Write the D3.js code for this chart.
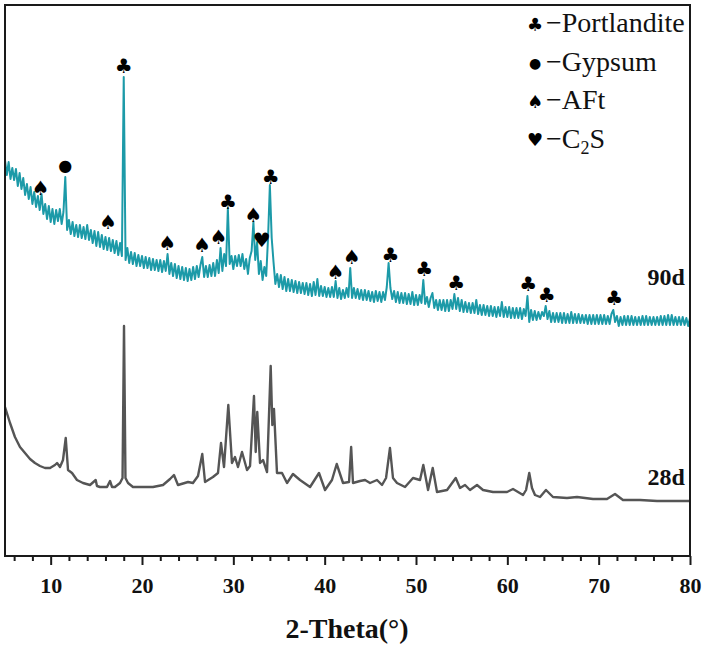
<!DOCTYPE html>
<html>
<head>
<meta charset="utf-8">
<script src="https://cdn.jsdelivr.net/npm/d3@7"></script>
<style>
  body { margin: 0; background: #fff; }
</style>
</head>
<body>
<div id="chart"></div>
<script>
// chart size and margins
const width = 706;
const height = 648;
const marginTop = 5;
const marginRight = 16;
const marginBottom = 92;
const marginLeft = 5;

// 28d pattern: [2-theta, intensity (a.u.)]
const pattern28d = [
  [5.0,149],[5.55,133],[6.09,119],[6.64,109],[7.19,103],[7.74,97],[8.28,93],[8.83,90],[9.38,88],[9.93,88],
  [10.47,91],[10.7,93],[11.02,89],[11.35,96],[11.65,118],[11.9,86],[12.34,83],[12.88,76],[13.54,73],[14.31,71],
  [14.93,76],[15.07,70],[15.4,69],[16.17,69],[16.5,75],[16.72,69],[17.04,69],[17.59,73],[17.87,78],[18.03,230],
  [18.19,78],[18.47,73],[19.01,69],[20.11,69],[21.2,69],[22.3,71],[23.07,77],[23.5,81],[23.94,71],[25.04,74],
  [25.58,73],[26.13,80],[26.6,102],[26.9,74],[27.77,79],[28.32,83],[28.65,113],[28.98,89],[29.45,151],[29.85,93],
  [30.18,99],[30.51,89],[30.95,104],[31.5,86],[31.83,90],[32.26,160],[32.45,104],[32.62,144],[32.92,93],[33.25,96],
  [33.69,84],[34.09,190],[34.27,131],[34.45,147],[34.78,83],[35.33,83],[35.88,73],[36.53,82],[37.3,76],[38.4,69],
  [39.38,83],[40.04,66],[40.8,76],[41.32,92],[42.01,73],[42.67,74],[42.9,109],[43.1,73],[43.87,75],[44.42,76],
  [44.97,73],[45.73,76],[46.28,71],[46.72,78],[47.15,108],[47.48,78],[47.92,73],[48.8,69],[49.67,78],[50.44,76],
  [50.8,91],[51.32,66],[51.83,88],[52.3,64],[53.4,66],[54.35,78],[54.82,68],[55.37,71],[55.91,66],[56.68,71],
  [57.34,66],[58.43,64],[59.97,64],[60.62,67],[61.72,61],[62.05,66],[62.4,83],[62.7,68],[63.03,61],[63.58,59],
  [64.23,66],[65.0,59],[66.53,58],[67.63,59],[69.38,57],[70.91,57],[71.79,62],[72.66,56],[74.53,56],[76.39,55],
  [78.14,55],[79.8,55],[80.0,55]
];

// 90d pattern: scan from 5 deg in 0.2 deg steps, intensity (a.u.)
const scanStart90d = 5;
const scanStep90d = 0.2;
const counts90d = [
  396,381,394,377,388,376,387,370,383,367,   // 5.0 - 6.8
  378,361,372,357,369,352,364,349,360,346,   // 7.0 - 8.8
  362,342,352,337,350,334,347,332,346,335,   // 9.0 - 10.8
  347,332,344,379,326,336,322,334,320,331,   // 11.0 - 12.8
  319,331,318,329,317,331,316,326,313,325,   // 13.0 - 14.8
  310,324,309,321,307,319,306,318,305,316,   // 15.0 - 16.8
  303,315,301,313,300,479,296,308,293,304,   // 17.0 - 18.8
  292,303,290,301,290,300,288,299,288,298,   // 19.0 - 20.8
  286,297,286,296,285,296,284,295,285,302,   // 21.0 - 22.8
  282,293,280,292,278,290,277,289,276,288,   // 23.0 - 24.8
  275,287,276,289,277,290,279,291,299,279,   // 25.0 - 26.8
  290,279,291,280,293,280,296,283,308,285,   // 27.0 - 28.8
  302,290,348,292,300,287,300,290,301,290,   // 29.0 - 30.8
  302,287,297,282,298,305,334,296,314,282,   // 31.0 - 32.8
  295,276,289,280,318,371,318,294,272,282,   // 33.0 - 34.8
  269,281,267,279,265,277,265,276,264,275,   // 35.0 - 36.8
  263,274,263,273,262,273,261,272,260,274,   // 37.0 - 38.8
  261,277,260,270,260,269,259,268,259,269,   // 39.0 - 40.8
  259,275,258,268,257,266,258,268,259,288,   // 41.0 - 42.8
  258,268,258,267,257,266,256,266,256,265,   // 43.0 - 44.8
  255,264,254,265,255,264,254,264,256,269,   // 45.0 - 46.8
  293,268,257,265,254,264,253,263,253,263,   // 47.0 - 48.8
  252,262,252,264,251,261,251,261,253,276,   // 49.0 - 50.8
  252,259,249,258,263,248,256,246,256,246,   // 51.0 - 52.8
  256,245,256,245,256,247,262,247,258,245,   // 53.0 - 54.8
  256,244,254,244,253,243,253,243,256,242,   // 55.0 - 56.8
  251,241,251,241,250,240,250,240,249,239,   // 57.0 - 58.8
  249,240,254,239,249,239,249,238,248,238,   // 59.0 - 60.8
  248,238,248,237,247,240,260,234,246,236,   // 61.0 - 62.8
  245,236,244,237,244,240,250,237,245,234,   // 63.0 - 64.8
  243,234,243,234,243,233,243,233,242,233,   // 65.0 - 66.8
  244,233,242,233,242,233,241,233,241,232,   // 67.0 - 68.8
  241,232,241,232,241,232,241,232,241,232,   // 69.0 - 70.8
  240,232,242,246,234,240,230,239,231,240,   // 71.0 - 72.8
  231,240,231,240,231,239,231,239,231,240,   // 73.0 - 74.8
  231,240,231,239,231,239,231,239,231,240,   // 75.0 - 76.8
  231,240,231,241,231,241,231,239,231,239,   // 77.0 - 78.8
  231,239,231,238,230,238                    // 79.0 - 80.0
];

// phase marks above the 90d peaks: [2-theta, phase, height (a.u.)]
const phaseMarks = [
  [8.9,"AFt",368],[11.6,"Gypsum",391],[16.3,"AFt",334],[18.0,"Portlandite",490],[22.8,"AFt",313],
  [26.6,"AFt",311],[28.4,"AFt",319],[29.4,"Portlandite",354],[32.2,"AFt",341],[33.1,"C2S",316],
  [34.1,"Portlandite",379],[41.2,"AFt",284],[43.0,"AFt",299],[47.2,"Portlandite",301],[50.9,"Portlandite",287],
  [54.4,"Portlandite",273],[62.3,"Portlandite",272],[64.3,"Portlandite",261],[71.7,"Portlandite",258]
];

const phases = ["Portlandite", "Gypsum", "AFt", "C2S"];
const phaseSymbols = ["\u2663", "\u25CF", "\u2660", "\u2665"];

// curve labels: [name, 2-theta of right edge, height (a.u.)]
const curveLabels = [["90d", 79.45, 271], ["28d", 79.45, 71]];

const xTicks = [10, 20, 30, 40, 50, 60, 70, 80];
const xMinorTicks = [6, 8, 12, 14, 16, 18, 22, 24, 26, 28, 32, 34, 36, 38, 42, 44, 46, 48,
  52, 54, 56, 58, 62, 64, 66, 68, 72, 74, 76, 78];

const serif = "'Liberation Serif', 'Times New Roman', serif";
const symbolFont = "'DejaVu Sans', sans-serif";

const svg = d3.select("#chart")
    .append("svg")
    .attr("width", width)
    .attr("height", height)
    .style("display", "block");

const x = d3.scaleLinear()
    .domain([5, 80])
    .range([marginLeft, width - marginRight]);

const y = d3.scaleLinear()
    .domain([0, 551])
    .range([height - marginBottom, marginTop]);

// 28d trace
svg.append("path")
    .datum(pattern28d)
    .attr("fill", "none")
    .attr("stroke", "#555555")
    .attr("stroke-width", 2.4)
    .attr("stroke-linejoin", "round")
    .attr("d", d3.line()
        .x(d => x(d[0]))
        .y(d => y(d[1])));

// 90d trace
svg.append("path")
    .datum(counts90d)
    .attr("fill", "none")
    .attr("stroke", "#1c9aa8")
    .attr("stroke-width", 2)
    .attr("stroke-linejoin", "round")
    .attr("d", d3.line()
        .x((d, i) => x(scanStart90d + i * scanStep90d))
        .y(d => y(d)));

// phase symbols over peaks
svg.selectAll("text.mark")
    .data(phaseMarks)
    .enter()
    .append("text")
    .attr("class", "mark")
    .attr("x", d => x(d[0]))
    .attr("y", d => y(d[2]))
    .attr("text-anchor", "middle")
    .attr("dominant-baseline", "central")
    .attr("fill", "#000")
    .style("font-family", symbolFont)
    .style("font-size", d => d[1] === "Gypsum" ? "16px" : "20px")
    .text(d => phaseSymbols[phases.indexOf(d[1])]);

// frame
svg.append("rect")
    .attr("x", marginLeft)
    .attr("y", marginTop)
    .attr("width", width - marginLeft - marginRight)
    .attr("height", height - marginTop - marginBottom)
    .attr("fill", "none")
    .attr("stroke", "#1a1a1a")
    .attr("stroke-width", 2);

// x axis, major and minor ticks
const xAxis = svg.append("g")
    .attr("transform", `translate(0,${height - marginBottom})`)
    .call(d3.axisBottom(x).tickValues(xTicks).tickSize(9).tickPadding(12).tickSizeOuter(0));

xAxis.select(".domain").remove();
xAxis.selectAll(".tick line").attr("stroke", "#1a1a1a").attr("stroke-width", 2);
xAxis.selectAll(".tick text")
    .style("font-family", serif)
    .style("font-weight", "bold")
    .style("font-size", "22px")
    .attr("fill", "#111");

const xMinor = svg.append("g")
    .attr("transform", `translate(0,${height - marginBottom})`)
    .call(d3.axisBottom(x).tickValues(xMinorTicks).tickSize(5).tickFormat(""));

xMinor.select(".domain").remove();
xMinor.selectAll(".tick line").attr("stroke", "#1a1a1a").attr("stroke-width", 2);

// axis title
svg.append("text")
    .attr("x", 347)
    .attr("y", 638)
    .attr("text-anchor", "middle")
    .style("font-family", serif)
    .style("font-weight", "bold")
    .style("font-size", "28px")
    .attr("fill", "#111")
    .text("2-Theta(\u00B0)");

// curve labels
svg.selectAll("text.curve")
    .data(curveLabels)
    .enter()
    .append("text")
    .attr("class", "curve")
    .attr("x", d => x(d[1]))
    .attr("y", d => y(d[2]))
    .attr("text-anchor", "end")
    .style("font-family", serif)
    .style("font-weight", "bold")
    .style("font-size", "24px")
    .attr("fill", "#111")
    .text(d => d[0]);

// legend
const legend = svg.append("g")
    .attr("transform", "translate(535,32)");

const legendRows = legend.selectAll("g")
    .data(phases)
    .enter()
    .append("g")
    .attr("transform", (d, i) => `translate(0,${i * 38.5})`);

legendRows.append("text")
    .attr("x", 0)
    .attr("y", -8)
    .attr("text-anchor", "middle")
    .attr("dominant-baseline", "central")
    .attr("fill", "#000")
    .style("font-family", symbolFont)
    .style("font-size", (d, i) => i === 1 ? "14px" : "18px")
    .text((d, i) => phaseSymbols[i]);

const legendText = legendRows.append("text")
    .attr("x", 11)
    .attr("y", 0)
    .style("font-family", serif)
    .style("font-size", "28px")
    .attr("fill", "#111");

legendText.each(function(d) {
    const t = d3.select(this);
    t.append("tspan").text("\u2212");
    if (d === "C2S") {
        t.append("tspan").text("C");
        t.append("tspan").attr("dy", 6).style("font-size", "18px").text("2");
        t.append("tspan").attr("dy", -6).text("S");
    } else {
        t.append("tspan").text(d);
    }
});
</script>
</body>
</html>
